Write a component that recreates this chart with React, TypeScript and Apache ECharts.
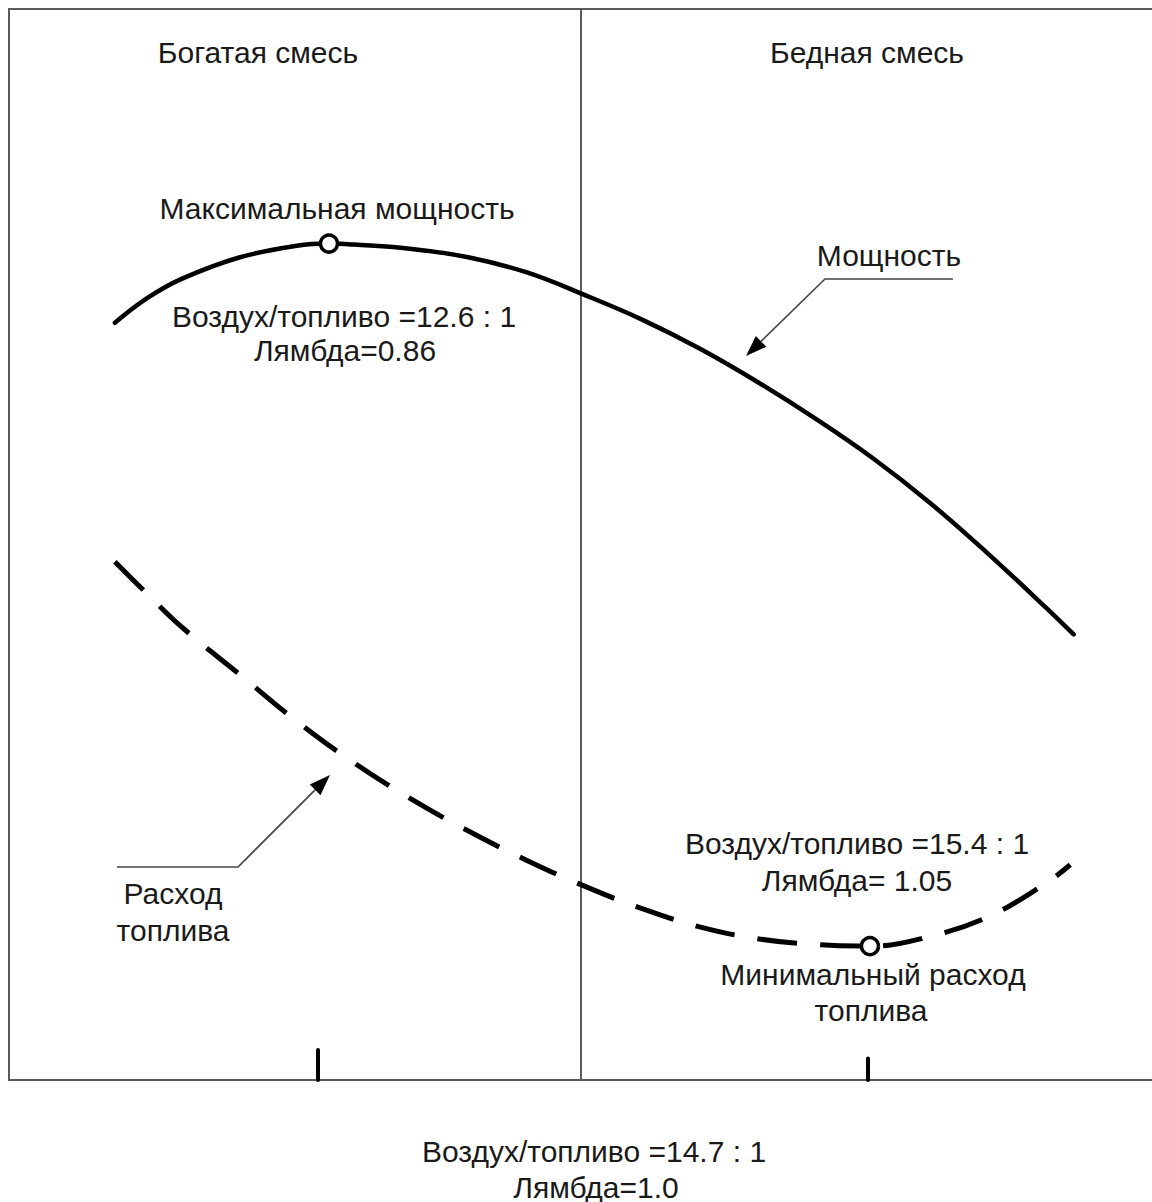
import React, { useEffect, useRef } from "react";
import * as echarts from "echarts";

// Abstract mixture axis (0..100 across the frame) and relative output (0..100)
const powerX = [9.2, 12, 15, 20, 25, 27.8, 30, 35, 40, 45, 50, 55, 60, 65, 70, 75, 80, 85, 90, 92.5];
const powerY = [70.7, 73.0, 74.8, 76.8, 77.9, 78.1, 78.0, 77.6, 76.8, 75.4, 73.3, 71.0, 68.3, 65.2, 61.8, 58.1, 53.9, 49.2, 44.2, 41.6];

const fuelX = [9.2, 12, 15, 20, 25, 30, 35, 40, 45, 50, 55, 60, 65, 70, 75, 80, 85, 90, 92.2];
const fuelY = [48.4, 45.4, 42.3, 37.9, 33.5, 29.6, 26.2, 23.2, 20.5, 18.1, 16.0, 14.3, 13.2, 12.65, 12.5, 13.4, 15.2, 18.3, 20.1];

const maxPowerPoint = [27.8, 78.1];
const minFuelPoint = [74.8, 12.5];

const stoichX = 49.7;
const tickX = [26.8, 74.6];
const tickLen = [2.8, 2.0];

const FONT = "'Liberation Sans', Arial, sans-serif";

export default function App() {
  const ref = useRef<HTMLDivElement>(null);
  useEffect(() => {
    if (!ref.current) return;
    const chart = echarts.init(ref.current, undefined, { renderer: "svg" });
    const txt = (text: string, x: number, y: number, size = 30) => ({
      type: "text",
      x,
      y,
      z: 100,
      style: {
        text,
        fill: "#1a1a1a",
        font: `${size}px ${FONT}`,
        textAlign: "center",
        textVerticalAlign: "middle",
      },
    });
    const arrow = (pts: number[][]) => {
      const [fx, fy] = pts[pts.length - 2];
      const [tx, ty] = pts[pts.length - 1];
      const dx = tx - fx, dy = ty - fy;
      const L = Math.hypot(dx, dy);
      const ux = dx / L, uy = dy / L;
      const bx = tx - ux * 21, by = ty - uy * 21;
      const px = -uy * 7.5, py = ux * 7.5;
      return [
        {
          type: "polyline",
          z: 90,
          shape: { points: [...pts.slice(0, -1), [bx, by]] },
          style: { stroke: "#444", lineWidth: 1.6, fill: "none" },
        },
        {
          type: "polygon",
          z: 91,
          shape: { points: [[tx, ty], [bx + px, by + py], [bx - px, by - py]] },
          style: { fill: "#000" },
        },
      ];
    };

    chart.setOption({
      animation: false,
      backgroundColor: "#fff",
      grid: {
        left: 9,
        top: 9,
        width: 1151,
        height: 1071,
        outerBoundsMode: "none",
        show: true,
        borderColor: "#5a5a5a",
        borderWidth: 2,
      },
      xAxis: {
        type: "value",
        min: 0,
        max: 100,
        axisLine: { show: false },
        axisTick: { show: false },
        axisLabel: { show: false },
        splitLine: { show: false },
      },
      yAxis: {
        type: "value",
        min: 0,
        max: 100,
        axisLine: { show: false },
        axisTick: { show: false },
        axisLabel: { show: false },
        splitLine: { show: false },
      },
      series: [
        {
          type: "line",
          data: powerX.map((x, i) => [x, powerY[i]]),
          smooth: 0.4,
          showSymbol: false,
          lineStyle: { color: "#000", width: 4.5, cap: "round" },
          z: 5,
          markLine: {
            silent: true,
            symbol: "none",
            label: { show: false },
            lineStyle: { color: "#5a5a5a", width: 2, type: "solid" },
            data: [[{ coord: [stoichX, 0] }, { coord: [stoichX, 100] }]],
          },
        },
        {
          type: "line",
          data: fuelX.map((x, i) => [x, fuelY[i]]),
          smooth: 0.4,
          showSymbol: false,
          lineStyle: { color: "#000", width: 5, type: [40, 23], cap: "butt" },
          z: 5,
          markLine: {
            silent: true,
            symbol: "none",
            label: { show: false },
            lineStyle: { color: "#000", width: 4, type: "solid", cap: "round" },
            data: tickX.map((x, i) => [{ coord: [x, 0] }, { coord: [x, tickLen[i]] }]),
          },
        },
        {
          type: "scatter",
          data: [maxPowerPoint, minFuelPoint],
          symbol: "circle",
          symbolSize: 17,
          itemStyle: { color: "#fff", borderColor: "#000", borderWidth: 3.5, opacity: 1 },
          z: 10,
        },
      ],
      graphic: [
        ...arrow([[953, 279], [825, 279], [746, 356]]),
        ...arrow([[117, 867], [238, 867], [330, 775]]),
        txt("Богатая смесь", 258, 52),
        txt("Бедная смесь", 867, 52),
        txt("Максимальная мощность", 337, 208),
        txt("Воздух/топливо =12.6 : 1", 344, 316),
        txt("Лямбда=0.86", 345, 350),
        txt("Мощность", 889, 255),
        txt("Расход", 173, 893),
        txt("топлива", 173, 930),
        txt("Воздух/топливо =15.4 : 1", 857, 843),
        txt("Лямбда= 1.05", 857, 880),
        txt("Минимальный расход", 873, 974),
        txt("топлива", 871, 1010),
        txt("Воздух/топливо =14.7 : 1", 594, 1151),
        txt("Лямбда=1.0", 596, 1187),
      ],
    });
    return () => chart.dispose();
  }, []);
  return (
    <div
      style={{
        position: "fixed",
        left: 0,
        top: 0,
        width: 1152,
        height: 1202,
        overflow: "hidden",
      }}
    >
      <div ref={ref} style={{ width: 1172, height: 1202 }} />
    </div>
  );
}
